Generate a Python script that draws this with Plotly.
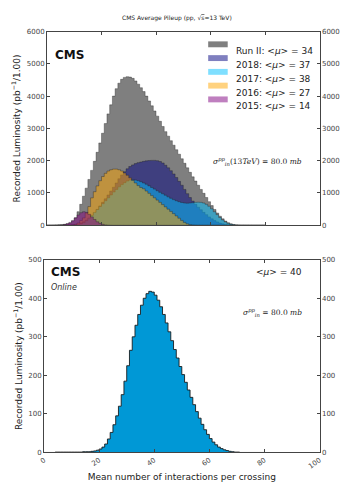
import plotly.graph_objects as go

# ---------------------------------------------------------------------------
# data: recorded luminosity per unit of pileup (bins of width 1, starting at 0)
# ---------------------------------------------------------------------------
run2 = [0, 2, 5, 10, 15, 20, 30, 45, 70, 130,
        230, 420, 650, 900, 1150, 1420, 1700, 1980, 2260, 2550,
        2850, 3150, 3450, 3730, 4000, 4230, 4400, 4520, 4580, 4600,
        4590, 4550, 4470, 4370, 4260, 4140, 4000, 3850, 3700, 3540,
        3380, 3220, 3060, 2900, 2760, 2620, 2480, 2340, 2200, 2060,
        1920, 1780, 1640, 1500, 1370, 1240, 1110, 990, 860, 730,
        610, 490, 380, 280, 200, 130, 80, 45, 25, 12,
        6, 3, 2, 1, 0, 0, 0, 0, 0, 0]
y2018 = [0, 0, 0, 0, 0, 0, 1, 2, 5, 10,
         20, 40, 70, 110, 160, 220, 300, 390, 490, 600,
         710, 820, 940, 1060, 1180, 1310, 1440, 1560, 1660, 1750,
         1820, 1870, 1910, 1940, 1960, 1980, 1995, 2005, 2010, 2010,
         2000, 1975, 1930, 1860, 1780, 1690, 1590, 1480, 1360, 1240,
         1110, 980, 860, 750, 650, 560, 480, 400, 330, 260,
         200, 150, 105, 70, 45, 25, 14, 7, 3, 1,
         0, 0, 0, 0, 0, 0, 0, 0, 0, 0]
y2017 = [0, 0, 0, 0, 0, 0, 0, 0, 1, 3,
         6, 15, 40, 80, 140, 220, 310, 400, 490, 580,
         670, 760, 850, 940, 1030, 1110, 1190, 1260, 1320, 1370,
         1400, 1410, 1400, 1380, 1350, 1310, 1270, 1220, 1170, 1120,
         1070, 1020, 975, 930, 880, 835, 795, 760, 730, 705,
         690, 685, 690, 700, 710, 715, 710, 690, 650, 590,
         510, 420, 330, 240, 165, 105, 60, 30, 14, 6,
         2, 0, 0, 0, 0, 0, 0, 0, 0, 0]
y2016 = [0, 0, 0, 0, 0, 0, 0, 2, 5, 12,
         30, 70, 150, 230, 380, 580, 850, 1040, 1220, 1380,
         1510, 1610, 1680, 1720, 1740, 1740, 1720, 1680, 1620, 1550,
         1470, 1390, 1310, 1230, 1170, 1130, 1060, 990, 920, 850,
         780, 710, 640, 570, 500, 430, 360, 290, 220, 150,
         90, 45, 20, 8, 3, 0, 0, 0, 0, 0,
         0, 0, 0, 0, 0, 0, 0, 0, 0, 0,
         0, 0, 0, 0, 0, 0, 0, 0, 0, 0]
y2015 = [0, 0, 0, 0, 2, 10, 25, 50, 90, 150,
         230, 320, 390, 420, 400, 340, 260, 180, 110, 60,
         30, 12, 5, 2, 0, 0, 0, 0, 0, 0,
         0, 0, 0, 0, 0, 0, 0, 0, 0, 0,
         0, 0, 0, 0, 0, 0, 0, 0, 0, 0,
         0, 0, 0, 0, 0, 0, 0, 0, 0, 0,
         0, 0, 0, 0, 0, 0, 0, 0, 0, 0,
         0, 0, 0, 0, 0, 0, 0, 0, 0, 0]
online = [0, 0, 0, 0, 1, 1, 1, 1, 1, 1,
          1, 1, 1, 1, 2, 2, 2, 3, 4, 6,
          9, 14, 22, 35, 52, 72, 95, 120, 150, 185,
          225, 265, 300, 330, 358, 382, 400, 412, 418, 416,
          408, 395, 378, 358, 336, 313, 290, 267, 245, 223,
          202, 182, 162, 143, 124, 106, 89, 73, 59, 47,
          36, 27, 20, 14, 10, 7, 5, 3, 2, 1,
          1, 0, 0, 0, 0, 0, 0, 0, 0, 0]

series_names = ["Run II", "2018", "2017", "2016", "2015"]
series_means = [34, 37, 38, 27, 14]
series_colors = ["rgba(0,0,0,0.5)", "rgba(0,0,128,0.5)", "rgba(0,191,255,0.5)",
                 "rgba(255,165,0,0.5)", "rgba(128,0,128,0.5)"]
online_mean = 40

W, H = 345, 485


def px(x):
    return x / W


def py(y):
    return 1 - y / H


def steps(vals):
    # bin edges for a step ("hv") outline closed at zero on the right
    return list(range(len(vals) + 1)), list(vals) + [0]


fig = go.Figure()

# top panel: overlapping filled histograms
for vals, name, col in zip([run2, y2018, y2017, y2016, y2015], series_names, series_colors):
    xs, ys = steps(vals)
    fig.add_trace(go.Scatter(
        x=xs, y=ys, name=name, mode="lines", line_shape="hv",
        line=dict(color="rgba(30,30,30,0.45)", width=0.8),
        fill="tozeroy", fillcolor=col, xaxis="x", yaxis="y", showlegend=False,
    ))

# bottom panel: online pileup
xs, ys = steps(online)
fig.add_trace(go.Scatter(
    x=xs, y=ys, mode="lines", line_shape="hv",
    line=dict(color="rgba(20,20,20,0.85)", width=1),
    fill="tozeroy", fillcolor="rgb(0,152,214)", xaxis="x2", yaxis="y2", showlegend=False,
))

# dummy traces so the right-hand mirrored axes get drawn
fig.add_trace(go.Scatter(x=[0], y=[0], mode="none", xaxis="x", yaxis="y3",
                         showlegend=False, hoverinfo="skip"))
fig.add_trace(go.Scatter(x=[0], y=[0], mode="none", xaxis="x2", yaxis="y4",
                         showlegend=False, hoverinfo="skip"))

axcol = "#444"
tickfont = dict(family="DejaVu Sans", size=7, color="#444")
common_x = dict(range=[0, 100], dtick=20, showline=True, linecolor=axcol, linewidth=1,
                ticks="inside", ticklen=3, tickcolor=axcol, mirror="ticks",
                showgrid=False, zeroline=False, tickfont=tickfont)
common_y = dict(showline=True, linecolor=axcol, linewidth=1, ticks="inside", ticklen=3,
                tickcolor=axcol, showgrid=False, zeroline=False, tickfont=tickfont)
ytitle = dict(text="Recorded Luminosity (pb<sup>−1</sup>/1.00)",
              font=dict(family="DejaVu Sans", size=9, color="#222"), standoff=4)

fig.update_layout(
    width=W, height=H,
    margin=dict(l=0, r=0, t=0, b=0),
    paper_bgcolor="white", plot_bgcolor="white",
    showlegend=False,
    font=dict(family="DejaVu Sans", color="#222"),
    xaxis=dict(common_x, domain=[px(43), px(322)], anchor="y", showticklabels=False),
    yaxis=dict(common_y, domain=[py(225), py(28)], anchor="x", range=[0, 6000], dtick=1000,
               title=ytitle),
    yaxis3=dict(common_y, overlaying="y", side="right", anchor="x", range=[0, 6000], dtick=1000),
    xaxis2=dict(common_x, domain=[px(40), px(322)], anchor="y2", tickangle=-35,
                title=dict(text="Mean number of interactions per crossing",
                           font=dict(family="DejaVu Sans", size=9, color="#222"), standoff=4)),
    yaxis2=dict(common_y, domain=[py(456), py(260)], anchor="x2", range=[0, 500], dtick=100,
                title=ytitle),
    yaxis4=dict(common_y, overlaying="y2", side="right", anchor="x2", range=[0, 500], dtick=100),
)

ann = []
shapes = []

ann.append(dict(text="CMS Average Pileup (pp, √<span style='text-decoration:overline'>s</span>=13 TeV)",
                x=px(176), y=py(8), xref="paper", yref="paper", showarrow=False,
                font=dict(family="DejaVu Sans", size=6, color="#222")))

# CMS labels
ann.append(dict(text="<b>CMS</b>", x=px(49), y=py(43), xref="paper", yref="paper",
                xanchor="left", showarrow=False, font=dict(family="DejaVu Sans", size=12, color="#111")))
ann.append(dict(text="<b>CMS</b>", x=px(45), y=py(272), xref="paper", yref="paper",
                xanchor="left", showarrow=False, font=dict(family="DejaVu Sans", size=12, color="#111")))
ann.append(dict(text="<i>Online</i>", x=px(45), y=py(288), xref="paper", yref="paper",
                xanchor="left", showarrow=False, font=dict(family="DejaVu Sans", size=8, color="#333")))

# legend (drawn by hand)
rows = [41, 55, 69, 83, 97]
for name, mean, col, ry in zip(series_names, series_means, series_colors, rows):
    shapes.append(dict(type="rect", xref="paper", yref="paper",
                       x0=px(208), x1=px(228), y0=py(ry + 3), y1=py(ry - 3),
                       fillcolor=col, line=dict(width=0)))
    ann.append(dict(text=f"{name}: &lt;<i>μ</i>&gt; = {mean}", x=px(234), y=py(ry),
                    xref="paper", yref="paper", xanchor="left", showarrow=False,
                    font=dict(family="DejaVu Sans", size=9, color="#222")))

ann.append(dict(text="<i>σ</i><sup><i>pp</i></sup><sub><i>in</i></sub>(13<i>TeV</i>) = 80.0 <i>mb</i>",
                x=px(306), y=py(153), xref="paper", yref="paper", xanchor="right", showarrow=False,
                font=dict(family="DejaVu Serif", size=7.5, color="#222")))

ann.append(dict(text=f"&lt;<i>μ</i>&gt; = {online_mean}", x=px(306), y=py(272),
                xref="paper", yref="paper", xanchor="right", showarrow=False,
                font=dict(family="DejaVu Sans", size=9, color="#222")))
ann.append(dict(text="<i>σ</i><sup><i>pp</i></sup><sub><i>in</i></sub> = 80.0 <i>mb</i>",
                x=px(306), y=py(314), xref="paper", yref="paper", xanchor="right", showarrow=False,
                font=dict(family="DejaVu Serif", size=7.5, color="#222")))

fig.update_layout(annotations=ann, shapes=shapes)

# page body has a default 8px margin; drop it so the figure sits at the window corner
fig.write_html("out.html", config={"displayModeBar": False},
               post_script="document.body.style.margin='0';document.body.style.padding='0';")
